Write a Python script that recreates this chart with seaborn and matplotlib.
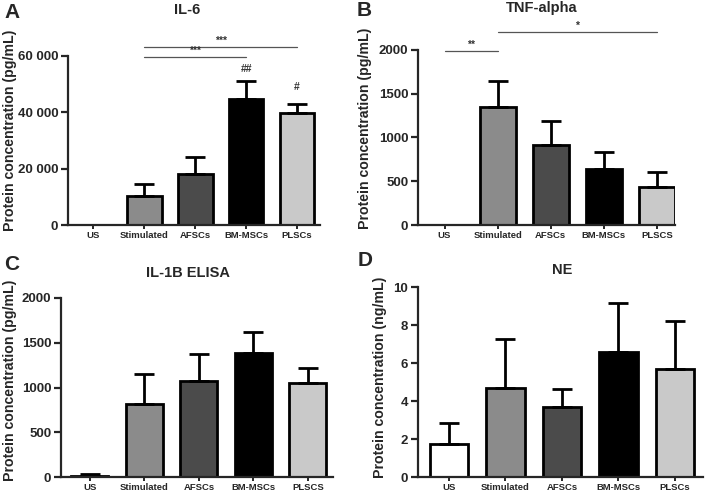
import matplotlib
matplotlib.use("Agg")
import matplotlib.pyplot as plt
import seaborn as sns
import numpy as np
import pandas as pd

sns.set_style("ticks")
plt.rcParams['font.family'] = ['Liberation Sans', 'DejaVu Sans']
plt.rcParams['font.weight'] = 'bold'

# ---- data ----
cats_a = ["US", "Stimulated", "AFSCs", "BM-MSCs", "PLSCs"]
cats_b = ["US", "Stimulated", "AFSCs", "BM-MSCs", "PLSCS"]
cats_c = ["US", "Stimulated", "AFSCs", "BM-MSCs", "PLSCS"]
cats_d = ["US", "Stimulated", "AFSCs", "BM-MSCs", "PLSCs"]

il6_mean = [0, 10200, 18200, 44900, 39700]
il6_err = [0, 4300, 5900, 6400, 3400]

tnf_mean = [0, 1346, 909, 635, 430]
tnf_err = [0, 304, 277, 202, 171]

il1b_mean = [15, 816, 1069, 1384, 1050]
il1b_err = [15, 338, 308, 241, 167]

ne_mean = [1.73, 4.70, 3.67, 6.59, 5.68]
ne_err = [1.12, 2.54, 0.96, 2.57, 2.54]

colors = ["#ffffff", "#8b8b8b", "#4b4b4b", "#000000", "#c9c9c9"]

ticks_a = [0, 20000, 40000, 60000]
ticklabels_a = ["0", "20 000", "40 000", "60 000"]
ticks_bc = [0, 500, 1000, 1500, 2000]
ticks_d = [0, 2, 4, 6, 8, 10]

W, H = 709, 494
fig = plt.figure(figsize=(W / 100, H / 100), dpi=100)

def box(l, r, b, t):
    return [l / W, 1 - b / H, (r - l) / W, (b - t) / H]

ax_a = fig.add_axes(box(68, 320, 225, 56))
ax_b = fig.add_axes(box(418, 675, 225, 50))
ax_c = fig.add_axes(box(61, 333, 477, 298))
ax_d = fig.add_axes(box(418, 703, 477, 287))


def draw(ax, cats, mean, err, ylim, ticks, ticklabels, ylabel, xlim, lab_xy):
    df = pd.DataFrame({"cat": cats, "val": mean})
    sns.barplot(data=df, x="cat", y="val", hue="cat", palette=colors,
                order=cats, hue_order=cats, legend=False, ax=ax,
                edgecolor="black", linewidth=2.0, width=0.68,
                errorbar=None, saturation=1)
    xs = np.arange(len(cats))
    ax.errorbar(xs, mean, yerr=[np.zeros(len(err)), err], fmt="none",
                ecolor="black", elinewidth=2.0, capsize=7, capthick=2.0,
                zorder=1)
    ax.set_ylim(*ylim)
    ax.set_xlim(*xlim)
    ax.set_yticks(ticks)
    ax.set_yticklabels(ticklabels, fontsize=9.5, fontweight="bold")
    ax.set_xticks(xs)
    ax.set_xticklabels(cats, fontsize=6.8, fontweight="bold")
    ax.set_xlabel("")
    ax.set_ylabel(ylabel, fontsize=10.2, fontweight="bold")
    ax.yaxis.set_label_coords(lab_xy[0] / W, 1 - lab_xy[1] / H,
                              transform=fig.transFigure)
    for s in ["top", "right"]:
        ax.spines[s].set_visible(False)
    for s in ["left", "bottom"]:
        ax.spines[s].set_linewidth(1.6)
    ax.tick_params(axis="y", width=1.6, length=5, pad=2)
    ax.tick_params(axis="x", width=1.4, length=3, pad=1)


draw(ax_a, cats_a, il6_mean, il6_err, (0, 60000), ticks_a, ticklabels_a,
     "Protein concentration (pg/mL)", (-0.5, 4.45), (17, 130))
draw(ax_b, cats_b, tnf_mean, tnf_err, (0, 2000), ticks_bc,
     [str(t) for t in ticks_bc], "Protein concentration (pg/mL)", (-0.5, 4.34), (372, 128))
draw(ax_c, cats_c, il1b_mean, il1b_err, (0, 2000), ticks_bc,
     [str(t) for t in ticks_bc], "Protein concentration (pg/mL)", (-0.53, 4.46), (17, 380))
draw(ax_d, cats_d, ne_mean, ne_err, (0, 10), ticks_d,
     [str(t) for t in ticks_d], "Protein concentration (ng/mL)", (-0.55, 4.5), (387, 377))

# significance annotations
def sig(ax, x0, x1, y, text, dy):
    ax.plot([x0, x1], [y, y], color="#555555", lw=0.9, clip_on=False)
    ax.text((x0 + x1) / 2, y + dy, text, ha="center", va="bottom",
            fontsize=7.5, fontweight="bold", color="#333333", clip_on=False)

sig(ax_a, 1, 4, 63300, "***", 300)
sig(ax_a, 1, 3, 59800, "***", 300)
ax_a.text(3, 53500, "##", ha="center", va="bottom", fontsize=7.5, color="#333333")
ax_a.text(4, 47300, "#", ha="center", va="bottom", fontsize=7.5, color="#333333")

sig(ax_b, 0, 1, 1989, "**", 15)
sig(ax_b, 1, 4, 2202, "*", 15)

# titles and panel letters
fig.text(187 / W, 1 - 10 / H, "IL-6", ha="center", va="center", fontsize=10.5, fontweight="bold")
fig.text(542 / W, 1 - 8 / H, "TNF-alpha", ha="center", va="center", fontsize=10.5, fontweight="bold")
fig.text(188 / W, 1 - 273 / H, "IL-1B ELISA", ha="center", va="center", fontsize=10.5, fontweight="bold")
fig.text(562 / W, 1 - 270 / H, "NE", ha="center", va="center", fontsize=10.5, fontweight="bold")

fig.text(12 / W, 1 - 12 / H, "A", ha="center", va="center", fontsize=15, fontweight="bold")
fig.text(364 / W, 1 - 11 / H, "B", ha="center", va="center", fontsize=15, fontweight="bold")
fig.text(12 / W, 1 - 265 / H, "C", ha="center", va="center", fontsize=15, fontweight="bold")
fig.text(365 / W, 1 - 260 / H, "D", ha="center", va="center", fontsize=15, fontweight="bold")

fig.savefig("out.png", dpi=100)
